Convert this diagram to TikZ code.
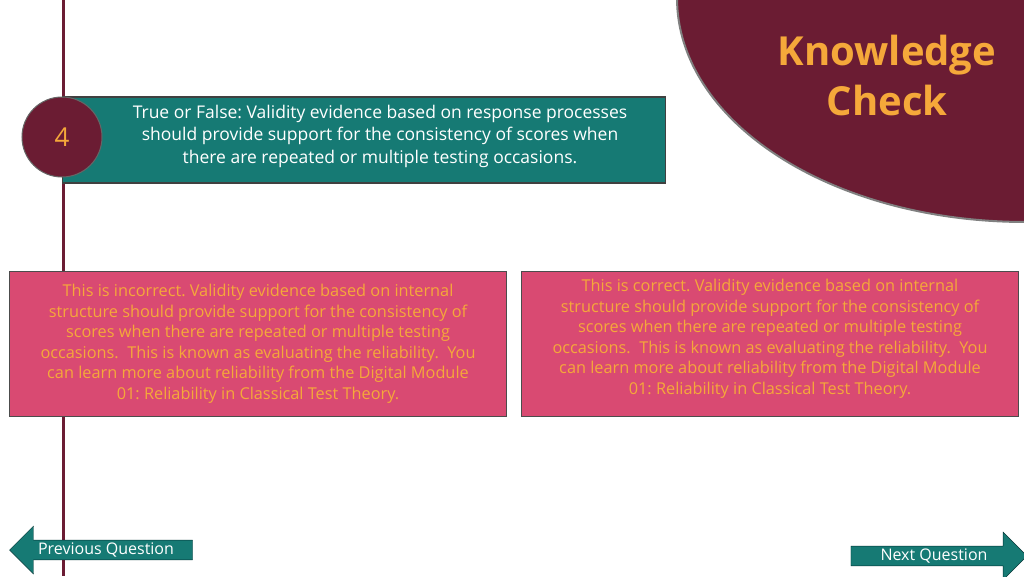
\documentclass[tikz,border=0pt]{standalone}
\usepackage{fontspec}
\setmainfont{Open Sans}
\usetikzlibrary{shapes.arrows}
\definecolor{maroon}{HTML}{6B1C33}
\definecolor{tealq}{HTML}{167A74}
\definecolor{pinkbox}{HTML}{D94A72}
\definecolor{goldtxt}{HTML}{F5A83A}
\frenchspacing
\begin{document}
\begin{tikzpicture}[x=1pt,y=-1pt]
\tikzstyle{answer} = [draw=gray!60!black, fill=pinkbox, line width=1.2pt,
    rectangle, minimum width=497pt, minimum height=145pt,
    align=center, text=goldtxt, font=\fontsize{16.3}{20.5}\selectfont]
\tikzstyle{navarrow} = [draw=teal!40!black, fill=tealq, single arrow,
    single arrow head extend=14pt, minimum height=183pt, inner sep=2.5pt,
    text=white, font=\fontsize{16}{18}\selectfont]

\useasboundingbox (0,0) rectangle (1024,576);
\fill[white] (0,0) rectangle (1024,576);
% title corner
\filldraw[fill=maroon, draw=gray, line width=2pt]
    (677,-2) .. controls (677,122) and (832,222) .. (1026,222) -- (1026,-2) -- cycle;
\node[text=goldtxt, align=center, font=\bfseries\fontsize{40}{50}\selectfont]
    (title) at (887,75) {Knowledge\\Check};
% time line
\draw[maroon, line width=3pt] (63,0) -- (63,576);
% question
\node[draw=gray!50!black, fill=tealq, line width=1.2pt, minimum width=603pt,
    minimum height=86pt] (question) at (364,140) {};
\node[align=center, text=white, font=\fontsize{17.5}{22.5}\selectfont]
    (qtext) at (380,136)
    {True or False: Validity evidence based on response processes\\
     should provide support for the consistency of scores when\\
     there are repeated or multiple testing occasions.};
\node[circle, draw=black!60, fill=maroon, line width=1pt, minimum size=80pt,
    text=goldtxt, font=\fontsize{26}{30}\selectfont] (num) at (62,137) {4};
% answers
\node[answer] (wrong) at (258,344)
    {This is incorrect. Validity evidence based on internal\\
     structure should provide support for the consistency of\\
     scores when there are repeated or multiple testing\\
     occasions.\ \ This is known as evaluating the reliability.\ \ You\\
     can learn more about reliability from the Digital Module\\
     01: Reliability in Classical Test Theory.};
\node[answer, anchor=north] (right) at (770,271) {};
\node[align=center, text=goldtxt, anchor=north,
    font=\fontsize{16.3}{20.5}\selectfont] (righttext) at (770,276)
    {This is correct. Validity evidence based on internal\\
     structure should provide support for the consistency of\\
     scores when there are repeated or multiple testing\\
     occasions.\ \ This is known as evaluating the reliability.\ \ You\\
     can learn more about reliability from the Digital Module\\
     01: Reliability in Classical Test Theory.};
% navigation
\node[navarrow, shape border rotate=180] (prev) at (106,550) {Previous Question};
\node[navarrow, minimum height=176pt] (next) at (934,556) {Next Question};
\end{tikzpicture}
\end{document}
